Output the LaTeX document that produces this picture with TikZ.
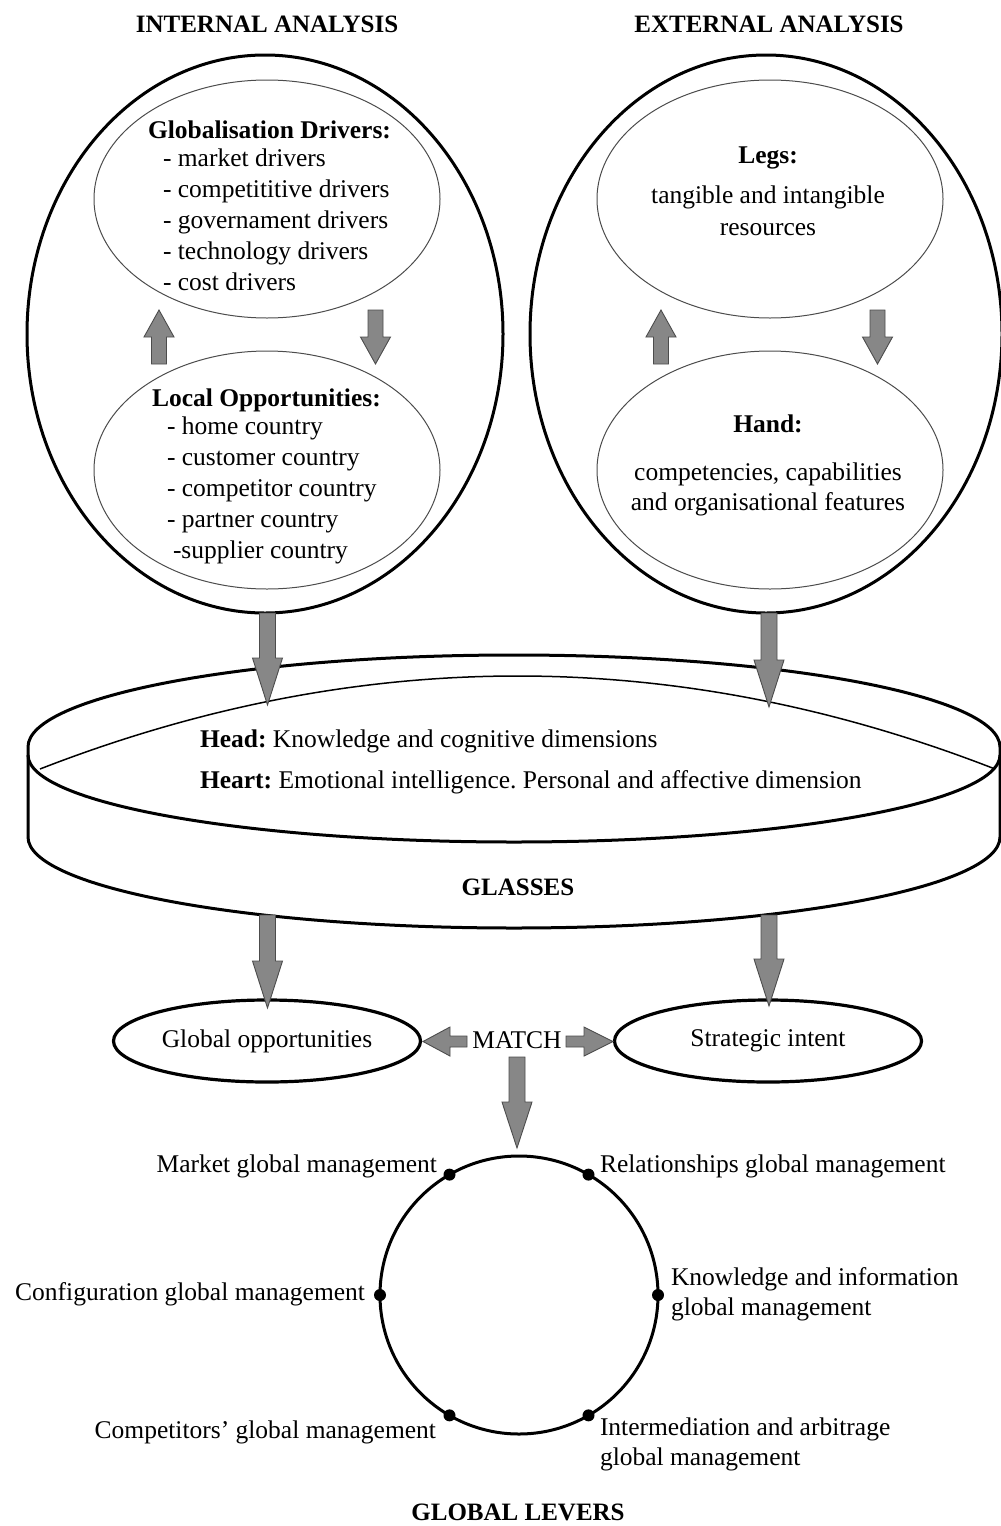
\documentclass[tikz,border=0pt]{standalone}
\usepackage{fontspec}
\setmainfont{Liberation Serif}
\usetikzlibrary{shapes.geometric,calc}
\frenchspacing
\tikzset{
  txt/.style={font=\fontsize{25.5}{31}\selectfont, inner sep=0pt, outer sep=0pt},
  ttl/.style={font=\fontsize{25}{31}\selectfont\bfseries, inner sep=0pt, outer sep=0pt},
  bigell/.style={ellipse, draw, line width=3pt, inner sep=0pt, outer sep=0pt},
  inell/.style={ellipse, draw=black!70, line width=1pt, inner sep=0pt, outer sep=0pt, minimum width=346pt, minimum height=238pt},
  smell/.style={ellipse, draw, line width=3.2pt, inner sep=0pt, outer sep=0pt, minimum width=307pt, minimum height=82pt, font=\fontsize{25.5}{31}\selectfont},
  barrow/.style={draw=black!70, fill=black!47, line width=0.9pt, line join=miter},
  dotm/.style={circle, fill, inner sep=0pt, minimum size=12pt},
  thick3/.style={line width=3pt},
}
\newcommand\blkarrow[5]{%
  \path ($(#2)!#5!(#1)$) coordinate (hb);
  \draw[barrow] ($(#1)!#3!90:(#2)$) -- ($(hb)!#3!90:(#2)$) -- ($(hb)!#4!90:(#2)$) -- (#2)
     -- ($(hb)!#4!-90:(#2)$) -- ($(hb)!#3!-90:(#2)$) -- ($(#1)!#3!-90:(#2)$) -- cycle;
}
\begin{document}
\begin{tikzpicture}[x=1pt,y=-1pt]
\useasboundingbox (0,0) rectangle (1001,1526);

% titles
\node[ttl, anchor=base] (tIA) at (267,32) {INTERNAL ANALYSIS};
\node[ttl, anchor=base] (tEA) at (769,32) {EXTERNAL ANALYSIS};

% big ellipses
\node[bigell, minimum width=476pt, minimum height=558pt] (IA) at (265,334) {};
\node[bigell, minimum width=472pt, minimum height=558pt] (EA) at (766,334) {};

% inner ellipses
\node[inell] (GD) at (267,199) {};
\node[inell] (LO) at (267,470) {};
\node[inell] (LG) at (770,199) {};
\node[inell] (HD) at (770,470) {};

% Globalisation drivers text
\node[txt, anchor=base west] (gd0) at (148,138) {\textbf{Globalisation Drivers:}};
\node[txt, anchor=base west] (gd1) at (163,166) {- market drivers};
\node[txt, anchor=base west] (gd2) at (163,197) {- competititive drivers};
\node[txt, anchor=base west] (gd3) at (163,228) {- governament drivers};
\node[txt, anchor=base west] (gd4) at (163,259) {- technology drivers};
\node[txt, anchor=base west] (gd5) at (163,290) {- cost drivers};

% Local opportunities text
\node[txt, anchor=base west] (lo0) at (152,406) {\textbf{Local Opportunities:}};
\node[txt, anchor=base west] (lo1) at (167,434) {- home country};
\node[txt, anchor=base west] (lo2) at (167,465) {- customer country};
\node[txt, anchor=base west] (lo3) at (167,496) {- competitor country};
\node[txt, anchor=base west] (lo4) at (167,527) {- partner country};
\node[txt, anchor=base west] (lo5) at (173,558) {-supplier country};

% Legs
\node[txt, anchor=base] (lg0) at (768,163) {\textbf{Legs:}};
\node[txt, anchor=base] (lg1) at (768,203) {tangible and intangible};
\node[txt, anchor=base] (lg2) at (768,235) {resources};

% Hand
\node[txt, anchor=base] (hd0) at (768,432) {\textbf{Hand:}};
\node[txt, anchor=base] (hd1) at (768,480) {competencies, capabilities};
\node[txt, anchor=base] (hd2) at (768,510) {and organisational features};

% small arrows inside big ellipses
\coordinate (u1s) at (159,364); \coordinate (u1e) at (159,310);
\coordinate (d1s) at (375.5,310); \coordinate (d1e) at (375.5,364);
\coordinate (u2s) at (661,364); \coordinate (u2e) at (661,310);
\coordinate (d2s) at (877.5,310); \coordinate (d2e) at (877.5,364);
\blkarrow{u1s}{u1e}{7.5pt}{15pt}{27pt}
\blkarrow{d1s}{d1e}{7.5pt}{15pt}{27pt}
\blkarrow{u2s}{u2e}{7.5pt}{15pt}{27pt}
\blkarrow{d2s}{d2e}{7.5pt}{15pt}{27pt}

% glasses (cylinder)
\draw[thick3] (28,837) -- (28,747) arc[start angle=180, end angle=0, x radius=486pt, y radius=92pt] -- (1000,837);
\draw[thick3] (28,837) arc[start angle=180, end angle=360, x radius=486pt, y radius=91pt];
\draw[thick3] (28,755) arc[start angle=180, end angle=360, x radius=486pt, y radius=87pt];
\draw[line width=1.5pt] (40,769) .. controls (358.3,645) and (676.7,645) .. (995,769);
\node[txt, anchor=base west] (head) at (200,747) {\textbf{Head:} Knowledge and cognitive dimensions};
\node[txt, anchor=base west] (heart) at (200,788) {\textbf{Heart:} Emotional intelligence. Personal and affective dimension};
\node[ttl, anchor=base] (glt) at (518,895) {GLASSES};

% arrows into glasses
\coordinate (a1s) at (267.5,613); \coordinate (a1e) at (267.5,705);
\coordinate (a2s) at (769,613); \coordinate (a2e) at (769,707);
\blkarrow{a1s}{a1e}{8pt}{15pt}{47pt}
\blkarrow{a2s}{a2e}{8pt}{15pt}{47pt}

% lower ellipses
\node[smell] (GO) at (267,1041) {Global opportunities};
\node[smell] (SI) at (768,1041) {Strategic intent};
\coordinate (a3s) at (267.5,915); \coordinate (a3e) at (267.5,1008);
\coordinate (a4s) at (769,915); \coordinate (a4e) at (769,1006);
\blkarrow{a3s}{a3e}{8pt}{15pt}{47pt}
\blkarrow{a4s}{a4e}{8pt}{15pt}{47pt}

% MATCH
\node[txt, anchor=base] (MT) at (517,1048) {MATCH};
\coordinate (m1s) at (467,1041.5); \coordinate (m1e) at (423,1041.5);
\coordinate (m2s) at (566,1041.5); \coordinate (m2e) at (613,1041.5);
\blkarrow{m1s}{m1e}{5.5pt}{14.5pt}{27pt}
\blkarrow{m2s}{m2e}{5.5pt}{14.5pt}{29pt}
\coordinate (m3s) at (517,1057); \coordinate (m3e) at (517,1148);
\blkarrow{m3s}{m3e}{8pt}{15pt}{46pt}

% global levers circle
\node[circle, draw, line width=3pt, inner sep=0pt, outer sep=0pt, minimum size=278pt] (LV) at (519,1295) {};
\foreach \a in {0,60,120,180,240,300} \node[dotm] at (LV.\a) {};
\node[txt, anchor=base east] (l1) at (437,1172) {Market global management};
\node[txt, anchor=base west] (l2) at (600,1172) {Relationships global management};
\node[txt, anchor=base east] (l3) at (365,1300) {Configuration global management};
\node[txt, anchor=base west] (l4a) at (671,1285) {Knowledge and information};
\node[txt, anchor=base west] (l4b) at (671,1315) {global management};
\node[txt, anchor=base east] (l5) at (436,1438) {Competitors’ global management};
\node[txt, anchor=base west] (l6a) at (600,1435) {Intermediation and arbitrage};
\node[txt, anchor=base west] (l6b) at (600,1465) {global management};
\node[ttl, anchor=base] (glv) at (518,1520) {GLOBAL LEVERS};
\end{tikzpicture}
\end{document}
